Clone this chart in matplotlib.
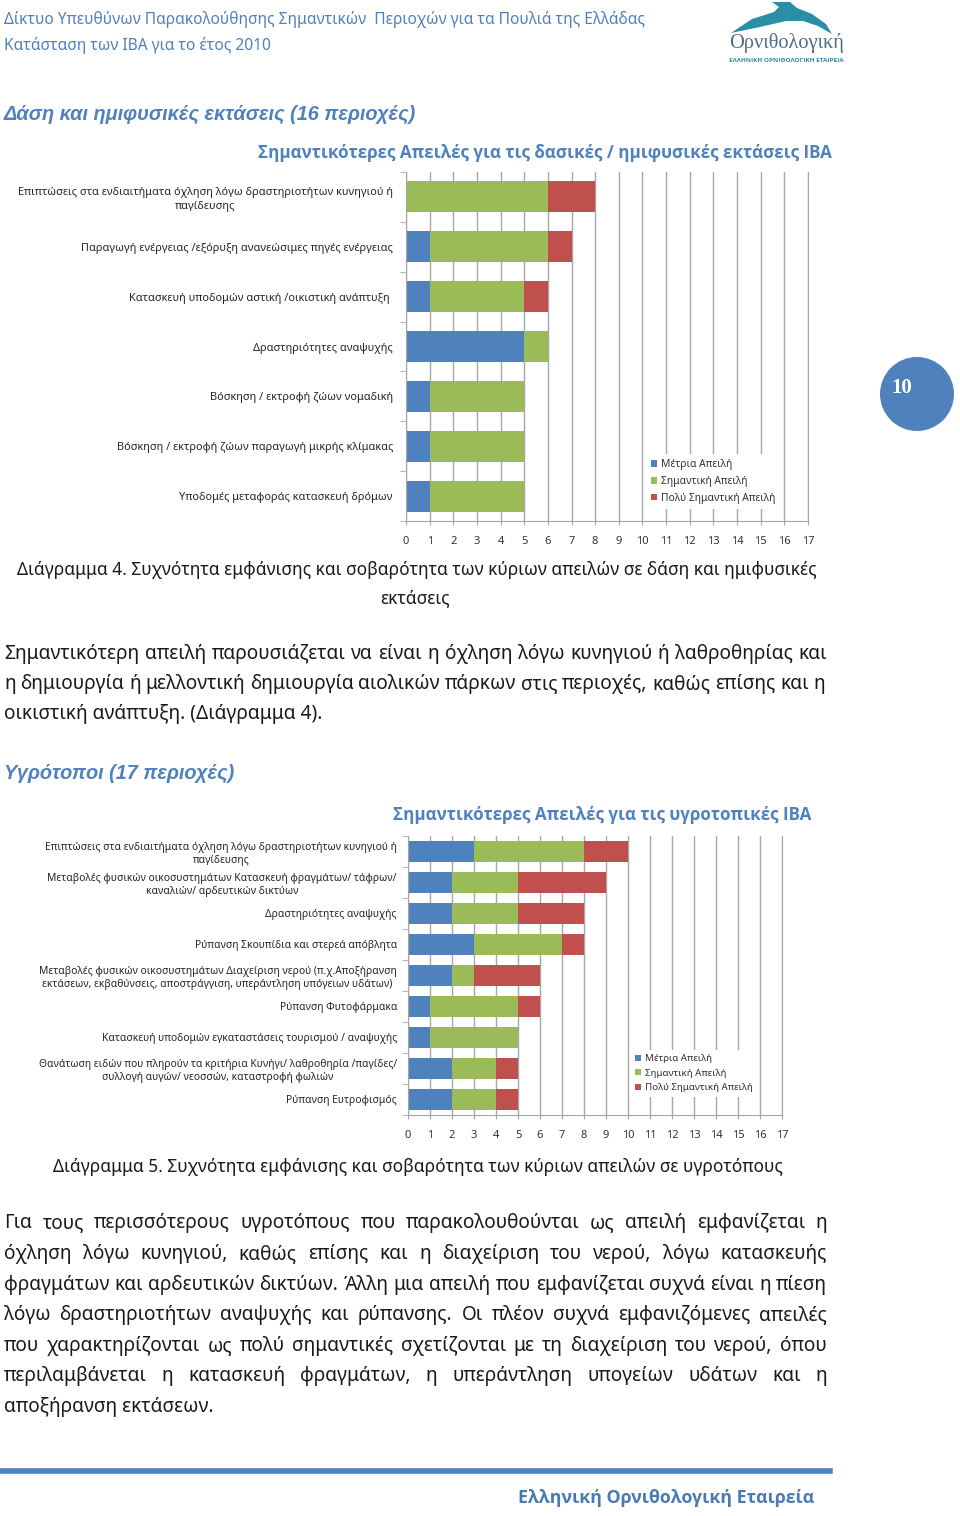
import numpy as np
import matplotlib
matplotlib.use("Agg")
import matplotlib.pyplot as plt
from matplotlib.patches import Polygon, Ellipse
from matplotlib.lines import Line2D

# ---- data ----
series_names = ["Μέτρια Απειλή", "Σημαντική Απειλή", "Πολύ Σημαντική Απειλή"]
colors = ["#4F81BD", "#9BBB59", "#C0504D"]

forest_labels = [
    "Επιπτώσεις στα ενδιαιτήματα όχληση λόγω δραστηριοτήτων κυνηγιού ή\nπαγίδευσης",
    "Παραγωγή ενέργειας /εξόρυξη ανανεώσιμες πηγές ενέργειας",
    "Κατασκευή υποδομών αστική /οικιστική ανάπτυξη ",
    "Δραστηριότητες αναψυχής",
    "Βόσκηση / εκτροφή ζώων νομαδική",
    "Βόσκηση / εκτροφή ζώων παραγωγή μικρής κλίμακας",
    "Υποδομές μεταφοράς κατασκευή δρόμων",
]
forest_moderate = [0, 1, 1, 5, 1, 1, 1]
forest_important = [6, 5, 4, 1, 4, 4, 4]
forest_very = [2, 1, 1, 0, 0, 0, 0]

wet_labels = [
    "Επιπτώσεις στα ενδιαιτήματα όχληση λόγω δραστηριοτήτων κυνηγιού ή\nπαγίδευσης",
    "Μεταβολές φυσικών οικοσυστημάτων Κατασκευή φραγμάτων/ τάφρων/\nκαναλιών/ αρδευτικών δικτύων",
    "Δραστηριότητες αναψυχής",
    "Ρύπανση Σκουπίδια και στερεά απόβλητα",
    "Μεταβολές φυσικών οικοσυστημάτων Διαχείριση νερού (π.χ.Αποξήρανση\nεκτάσεων, εκβαθύνσεις, αποστράγγιση, υπεράντληση υπόγειων υδάτων) ",
    "Ρύπανση Φυτοφάρμακα",
    "Κατασκευή υποδομών εγκαταστάσεις τουρισμού / αναψυχής",
    "Θανάτωση ειδών που πληρούν τα κριτήρια Κυνήγι/ λαθροθηρία /παγίδες/\nσυλλογή αυγών/ νεοσσών, καταστροφή φωλιών",
    "Ρύπανση Ευτροφισμός",
]
wet_moderate = [3, 2, 2, 3, 2, 1, 1, 2, 2]
wet_important = [5, 3, 3, 4, 1, 4, 4, 2, 2]
wet_very = [2, 4, 3, 1, 3, 1, 0, 1, 1]

x_ticks = list(range(0, 18))

W, H = 960, 1516
BLUE = "#4F81BD"
TEXT = "#1a1a1a"
BODY_FONT = ["Noto Sans", "DejaVu Sans"]
BOLD_FONT = ["Open Sans", "DejaVu Sans"]

fig = plt.figure(figsize=(W / 100, H / 100), dpi=100)
fig.patch.set_facecolor("white")
r = fig.canvas.get_renderer()


def fx(x):
    return x / W


def fy(y):
    return 1 - y / H


def txt(x, y, s, size=10, **kw):
    kw.setdefault("family", BODY_FONT)
    kw.setdefault("color", TEXT)
    kw.setdefault("va", "center")
    return fig.text(fx(x), fy(y), s, fontsize=size, **kw)


def fit(t, width):
    # rescale font so the text spans the given pixel width
    w = t.get_window_extent(r).width
    t.set_fontsize(t.get_fontsize() * width / w)
    return t.get_fontsize()


def justify(line, y, size, x0=4, x1=827):
    words = line.split()
    objs = [txt(0, y, w, size) for w in words]
    widths = [o.get_window_extent(r).width for o in objs]
    gap = (x1 - x0 - sum(widths)) / (len(words) - 1)
    x = x0
    for o, w in zip(objs, widths):
        o.set_x(fx(x))
        x += w + gap


def chart(rect, labels, moderate, important, very, bar_h, label_size, label_pad,
          line_sp, leg_size, leg_xy):
    ax = fig.add_axes(rect)
    y = np.arange(len(labels))
    mod = np.array(moderate)
    imp = np.array(important)
    ver = np.array(very)
    ax.barh(y, mod, height=bar_h, color=colors[0], label=series_names[0])
    ax.barh(y, imp, left=mod, height=bar_h, color=colors[1], label=series_names[1])
    ax.barh(y, ver, left=mod + imp, height=bar_h, color=colors[2], label=series_names[2])
    ax.set_xlim(0, 17)
    ax.set_ylim(len(labels) - 0.5, -0.5)
    ax.set_xticks(x_ticks)
    ax.set_yticks(y)
    ax.set_yticklabels(labels, fontsize=label_size, family=BODY_FONT, color="#262626")
    for t in ax.get_yticklabels():
        t.set_multialignment("center")
        t.set_linespacing(line_sp)
    ax.set_yticks(np.arange(len(labels) + 1) - 0.5, minor=True)
    ax.tick_params(axis="y", which="major", length=0, pad=label_pad)
    ax.tick_params(axis="y", which="minor", length=4, color="#A6A6A6")
    ax.tick_params(axis="x", length=3, color="#A6A6A6", pad=8, labelsize=8, labelcolor="#333333")
    for t in ax.get_xticklabels():
        t.set_family(BODY_FONT)
    ax.set_axisbelow(True)
    ax.xaxis.grid(True, color="#A6A6A6", lw=1)
    ax.spines["top"].set_visible(False)
    for s in ["left", "bottom", "right"]:
        ax.spines[s].set_color("#A6A6A6")
    leg = ax.legend(loc="upper left", bbox_to_anchor=leg_xy, bbox_transform=ax.transData,
                    frameon=True, facecolor="white", edgecolor="none", framealpha=1,
                    fontsize=leg_size, handlelength=0.6, handleheight=0.6,
                    handletextpad=0.4, labelspacing=0.55, borderpad=0.5, borderaxespad=0)
    leg.get_frame().set_boxstyle("square", pad=0)
    for t in leg.get_texts():
        t.set_color("#333333")
        t.set_family(BODY_FONT)
    return ax


# ---- page header ----
h1 = txt(4, 20, "Δίκτυο Υπευθύνων Παρακολούθησης Σημαντικών  Περιοχών για τα Πουλιά της Ελλάδας", 10, color=BLUE)
hs = fit(h1, 640)
txt(4, 46, "Κατάσταση των IBA για το έτος 2010", hs, color=BLUE)

# logo
bird = [(772, 2), (790, 2), (797, 8), (812, 14), (826, 24), (832, 34), (818, 26),
        (803, 21), (786, 21), (760, 27), (731, 33), (752, 19), (774, 12), (779, 7)]
fig.patches.append(Polygon([(fx(x), fy(y)) for x, y in bird], closed=True,
                           transform=fig.transFigure, facecolor="#2A8FA6", edgecolor="none"))
lg = txt(787, 43, "Ορνιθολογική", 14, ha="center", family=["Liberation Serif"], color="#4f6f86")
fit(lg, 116)
lg2 = txt(786, 60, "ΕΛΛΗΝΙΚΗ ΟΡΝΙΘΟΛΟΓΙΚΗ ΕΤΑΙΡΕΙΑ", 5, ha="center", weight="bold",
          color="#2A8FA6", family=BOLD_FONT)
fit(lg2, 114)

# section 1
sec1 = txt(4, 114, "Δάση και ημιφυσικές εκτάσεις (16 περιοχές)", 14, color=BLUE,
           family=["Liberation Sans"], weight="bold", style="italic")
ss = fit(sec1, 412)

t1 = txt(545, 153, "Σημαντικότερες Απειλές για τις δασικές / ημιφυσικές εκτάσεις IBA", 12,
         ha="center", weight="bold", color=BLUE, family=BOLD_FONT)
ts = fit(t1, 574)

chart([fx(406), fy(521), (808 - 406) / W, (521 - 172) / H], forest_labels,
      forest_moderate, forest_important, forest_very, 0.62, 7.9, 9.4, 1.35, 7.4, (10.15, 5.16))

# caption 4 + paragraph 1
c4 = txt(17, 570, "Διάγραμμα 4. Συχνότητα εμφάνισης και σοβαρότητα των κύριων απειλών σε δάση και ημιφυσικές", 12)
cs = fit(c4, 797)
txt(415, 598, "εκτάσεις", cs, ha="center")

p_last = txt(4, 714, "οικιστική ανάπτυξη. (Διάγραμμα 4).", 12)
ps = fit(p_last, 318)
justify("Σημαντικότερη απειλή παρουσιάζεται να είναι η όχληση λόγω κυνηγιού ή λαθροθηρίας και", 654, ps)
justify("η δημιουργία ή μελλοντική δημιουργία αιολικών πάρκων στις περιοχές, καθώς επίσης και η", 684, ps, x1=825)

# section 2
txt(4, 773, "Υγρότοποι (17 περιοχές)", ss, color=BLUE,
    family=["Liberation Sans"], weight="bold", style="italic")
txt(602, 815, "Σημαντικότερες Απειλές για τις υγροτοπικές IBA", ts,
    ha="center", weight="bold", color=BLUE, family=BOLD_FONT)

chart([fx(408), fy(1115), (782 - 408) / W, (1115 - 836) / H], wet_labels,
      wet_moderate, wet_important, wet_very, 0.65, 7.4, 8.0, 1.3, 7.0, (10.1, 6.39))

txt(53, 1167, "Διάγραμμα 5. Συχνότητα εμφάνισης και σοβαρότητα των κύριων απειλών σε υγροτόπους", cs)

para2 = [
    "Για τους περισσότερους υγροτόπους που παρακολουθούνται ως απειλή εμφανίζεται η",
    "όχληση λόγω κυνηγιού, καθώς επίσης και η διαχείριση του νερού, λόγω κατασκευής",
    "φραγμάτων και αρδευτικών δικτύων. Άλλη μια απειλή που εμφανίζεται συχνά είναι η πίεση",
    "λόγω δραστηριοτήτων αναψυχής και ρύπανσης. Οι πλέον συχνά εμφανιζόμενες απειλές",
    "που χαρακτηρίζονται ως πολύ σημαντικές σχετίζονται με τη διαχείριση του νερού, όπου",
    "περιλαμβάνεται η κατασκευή φραγμάτων, η υπεράντληση υπογείων υδάτων και η",
]
para2_y = [1223, 1254, 1285, 1315, 1346, 1376]
for line, yy in zip(para2, para2_y):
    justify(line, yy, ps)
txt(4, 1407, "αποξήρανση εκτάσεων.", ps)

# page number badge
fig.patches.append(Ellipse((fx(917), fy(394)), 74 / W, 74 / H, transform=fig.transFigure,
                           facecolor=BLUE, edgecolor="none"))
txt(902, 388, "10", 15, ha="center", color="white", weight="bold", family=["Liberation Serif"])

# footer
fig.lines.append(Line2D([0, fx(830)], [fy(1471), fy(1471)], transform=fig.transFigure,
                        color=BLUE, lw=4))
ft = txt(666, 1498, "Ελληνική Ορνιθολογική Εταιρεία", 14, ha="center", weight="bold",
         color="#4A7AB5", family=BOLD_FONT)
fit(ft, 298)

fig.savefig("out.png", dpi=100, facecolor="white")
